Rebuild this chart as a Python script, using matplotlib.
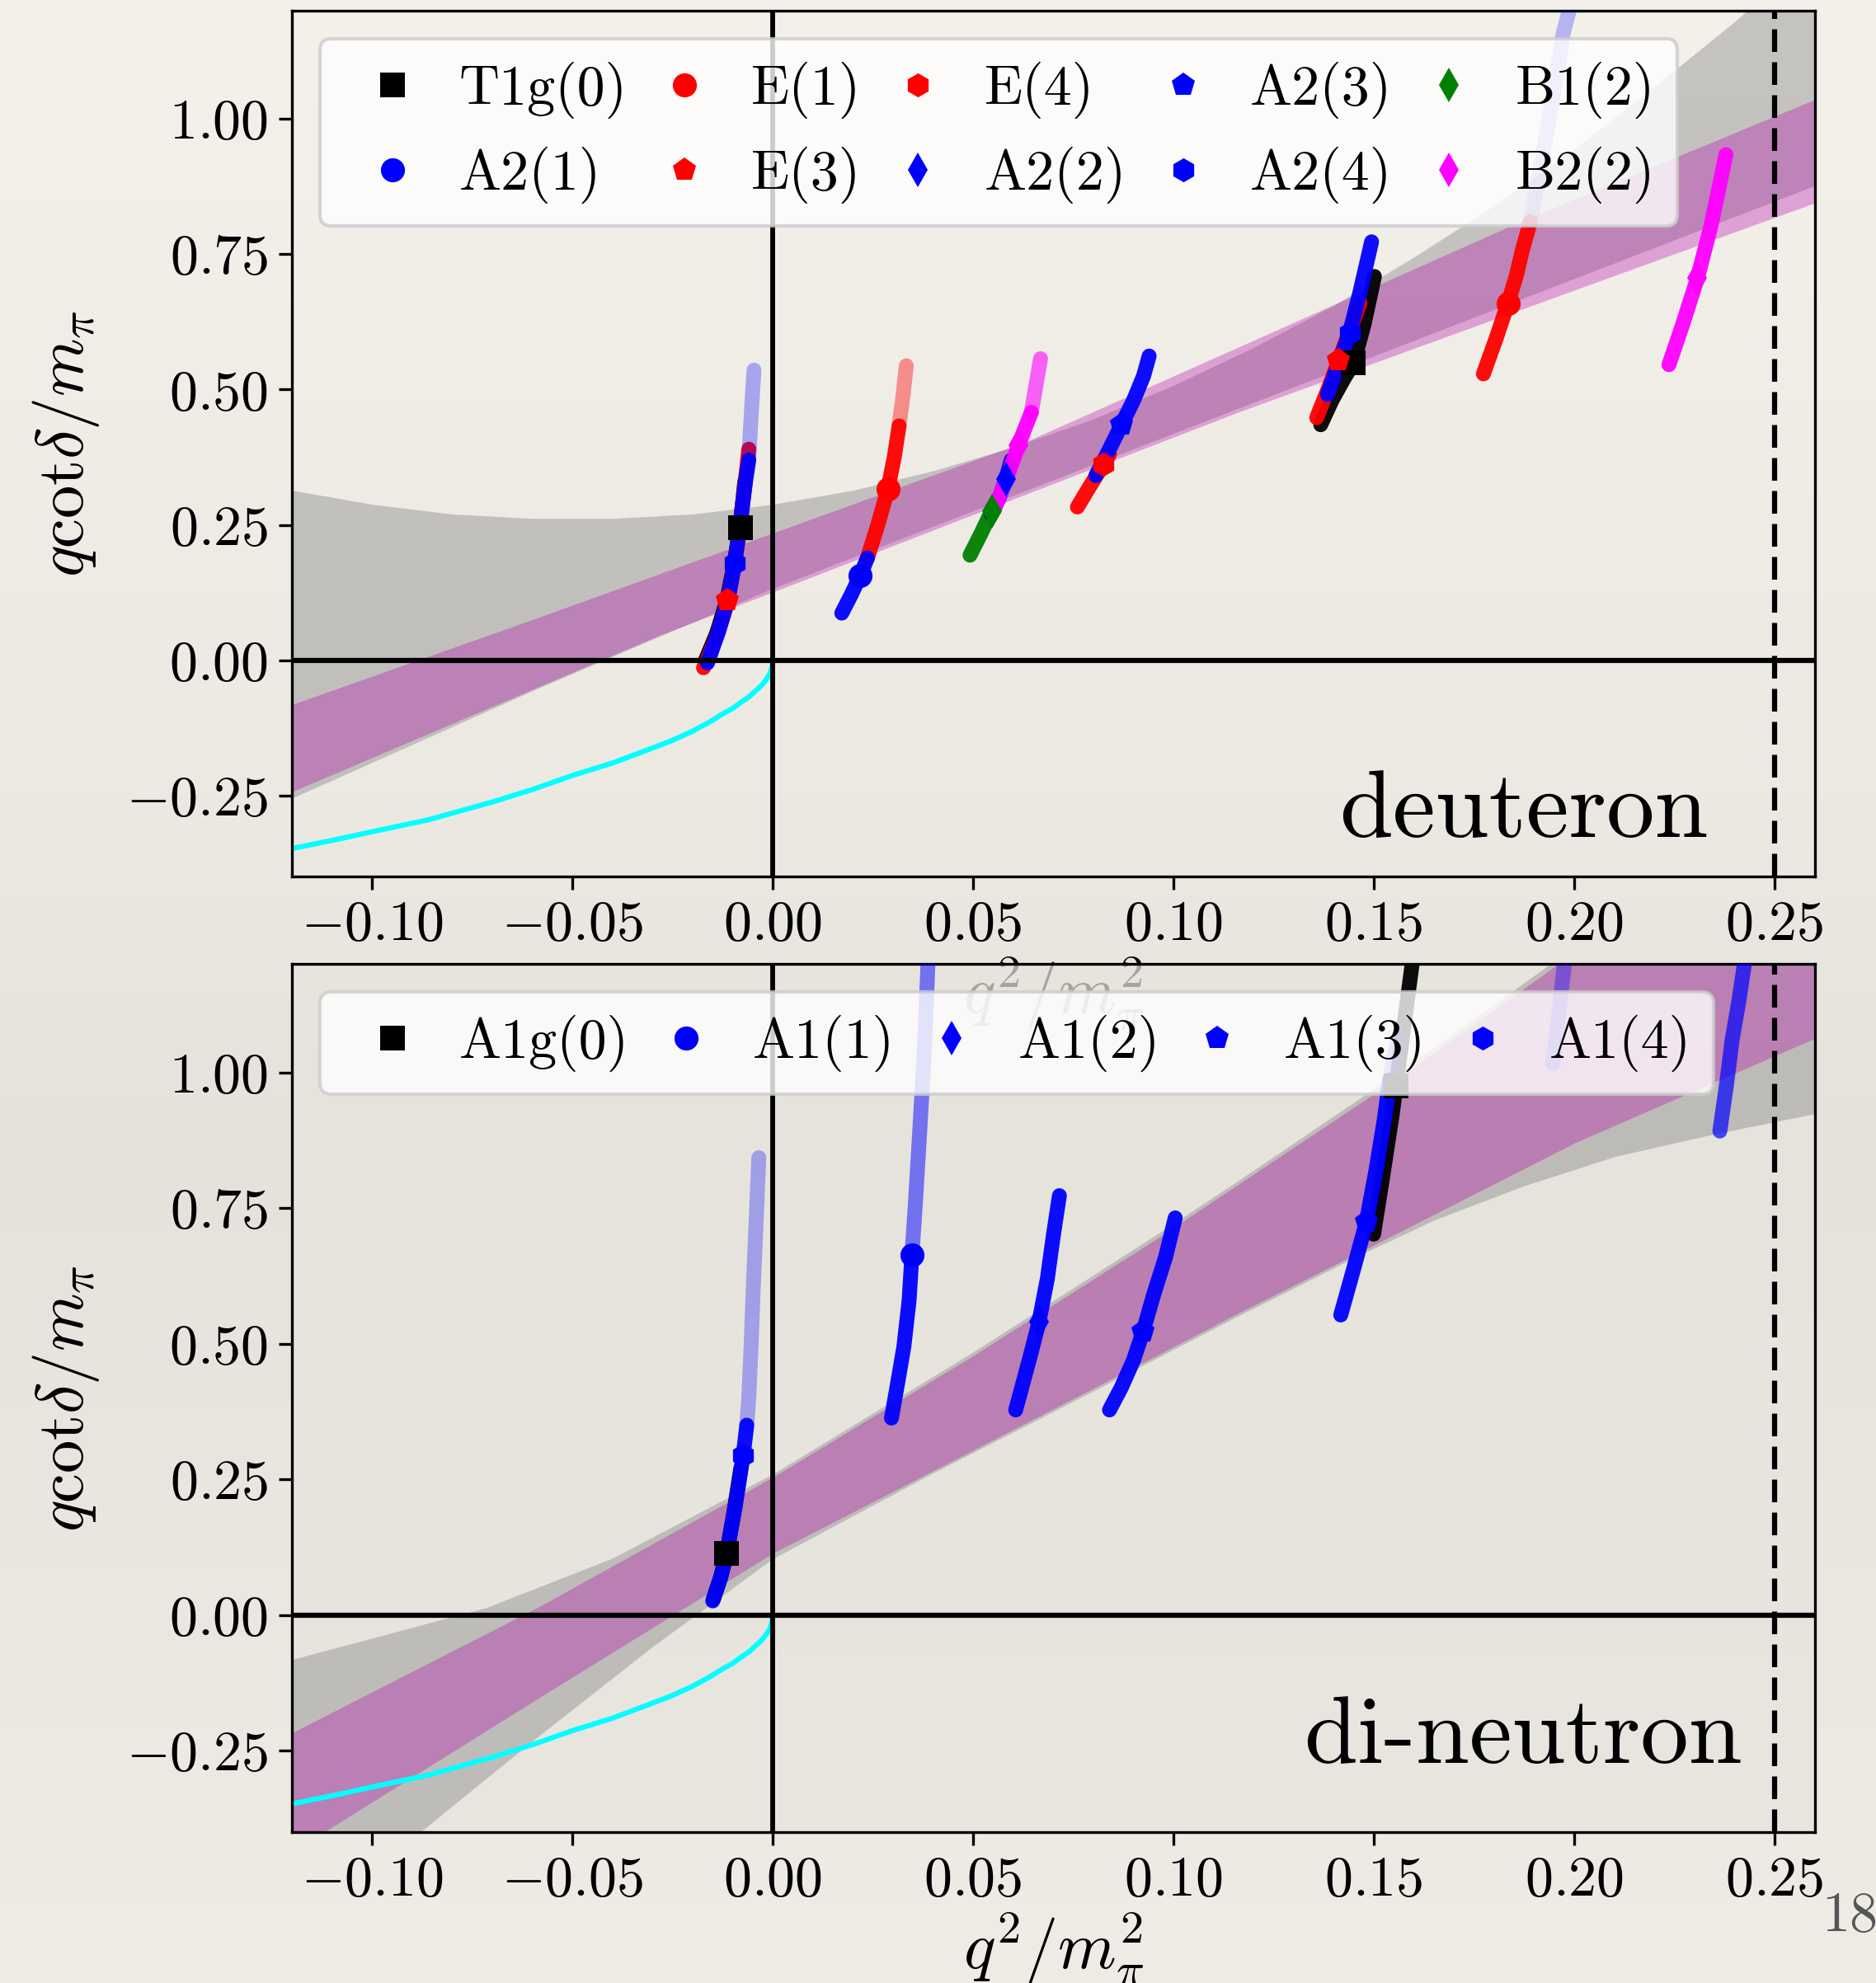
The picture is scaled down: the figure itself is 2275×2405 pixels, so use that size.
import numpy as np
import matplotlib
matplotlib.use("Agg")
import matplotlib.pyplot as plt
from matplotlib.colors import LinearSegmentedColormap
from matplotlib.ticker import FuncFormatter

plt.rcParams['font.family'] = ['cmr10']
plt.rcParams['mathtext.fontset'] = 'cm'
plt.rcParams['axes.unicode_minus'] = False
plt.rcParams['axes.formatter.use_mathtext'] = True

# ---------------- bands ----------------
# deuteron panel
d_gray_x = [-0.12, -0.10, -0.08, -0.06, -0.04, -0.02, 0.0, 0.02, 0.04, 0.06, 0.08, 0.10,
            0.12, 0.14, 0.16, 0.18, 0.20, 0.22, 0.24, 0.26]
d_gray_up = [0.314, 0.288, 0.270, 0.262, 0.262, 0.270, 0.288, 0.314, 0.350, 0.394, 0.446, 0.508,
             0.578, 0.656, 0.745, 0.840, 0.945, 1.060, 1.180, 1.310]
d_gray_lo_x = [-0.12, -0.055, 0.0, 0.116, 0.26]
d_gray_lo = [-0.255, -0.040, 0.133, 0.465, 0.877]
d_purp_up_x = [-0.12, -0.06, 0.0, 0.0635, 0.116, 0.187, 0.26]
d_purp_up = [-0.082, 0.075, 0.235, 0.405, 0.578, 0.812, 1.036]
d_purp_lo_x = [-0.12, -0.028, 0.0, 0.116, 0.26]
d_purp_lo = [-0.243, 0.047, 0.126, 0.458, 0.845]

# di-neutron panel
n_gray_up_x = [-0.12, -0.0714, -0.04, 0.0, 0.05, 0.0965, 0.116, 0.16, 0.194, 0.26]
n_gray_up = [-0.082, 0.014, 0.105, 0.26, 0.485, 0.705, 0.80, 1.02, 1.20, 1.58]
n_gray_lo_x = [-0.12, -0.088, -0.06, -0.03, 0.0, 0.04, 0.08, 0.116, 0.146, 0.165, 0.187,
               0.21, 0.2358, 0.26]
n_gray_lo = [-0.592, -0.40, -0.232, -0.058, 0.104, 0.262, 0.413, 0.551, 0.662, 0.728, 0.790,
             0.845, 0.888, 0.924]
n_purp_up_x = [-0.12, -0.0587, 0.0, 0.05, 0.0965, 0.116, 0.16, 0.196, 0.26]
n_purp_up = [-0.217, 0.014, 0.254, 0.478, 0.697, 0.793, 1.01, 1.20, 1.55]
n_purp_lo_x = [-0.12, -0.112, -0.06, 0.0, 0.04, 0.08, 0.116, 0.146, 0.20, 0.26]
n_purp_lo = [-0.437, -0.40, -0.16, 0.114, 0.266, 0.418, 0.556, 0.667, 0.87, 1.063]

# bound-state curve
cyan_x = [-0.12, -0.11, -0.10, -0.086, -0.07, -0.06, -0.05, -0.04, -0.031, -0.025, -0.02,
          -0.0155, -0.0127, -0.010, -0.008, -0.006, -0.0045, -0.003, -0.002, -0.0012,
          -0.0007, -0.0003, 0.0]
cyan_y = [-0.348, -0.333, -0.317, -0.295, -0.262, -0.239, -0.213, -0.190, -0.165, -0.148,
          -0.131, -0.113, -0.100, -0.089, -0.078, -0.068, -0.058, -0.048, -0.039, -0.031,
          -0.024, -0.015, 0.0]

# ---------------- deuteron levels ----------------
d_t1g0_a_x = [-0.0168, -0.0140, -0.0115, -0.0096, -0.0082, -0.0070]
d_t1g0_a_y = [0.0, 0.05, 0.11, 0.18, 0.245, 0.33]
d_e3_a_x = [-0.0173, -0.0163, -0.0136, -0.0113, -0.0095, -0.0082, -0.0068, -0.0060]
d_e3_a_y = [-0.014, 0.001, 0.052, 0.108, 0.179, 0.245, 0.336, 0.39]
d_a24_a_x = [-0.0163, -0.0136, -0.0113, -0.0095, -0.0085, -0.0075, -0.0067, -0.0060]
d_a24_a_y = [-0.005, 0.052, 0.108, 0.179, 0.235, 0.29, 0.336, 0.37]
d_a24_a_fx = [-0.0060, -0.0055, -0.0051, -0.0047]
d_a24_a_fy = [0.37, 0.44, 0.49, 0.536]
d_a21_b_x = [0.0172, 0.0195, 0.0218, 0.0236]
d_a21_b_y = [0.087, 0.12, 0.156, 0.189]
d_e1_b_x = [0.0236, 0.0262, 0.0287, 0.0303, 0.0315]
d_e1_b_y = [0.189, 0.25, 0.316, 0.375, 0.433]
d_e1_b_fx = [0.0315, 0.0325, 0.0333]
d_e1_b_fy = [0.433, 0.49, 0.544]
d_b12_x = [0.0492, 0.0520, 0.0549]
d_b12_y = [0.194, 0.235, 0.280]
d_a22_x = [0.0545, 0.0565, 0.0581, 0.0595]
d_a22_y = [0.27, 0.30, 0.334, 0.37]
d_b22_c_x = [0.0553, 0.0583, 0.0613, 0.0630, 0.0645]
d_b22_c_y = [0.28, 0.335, 0.397, 0.43, 0.458]
d_b22_c_fx = [0.0645, 0.0657, 0.0668]
d_b22_c_fy = [0.458, 0.51, 0.557]
d_e4_x = [0.0760, 0.0790, 0.0825, 0.0840]
d_e4_y = [0.283, 0.32, 0.362, 0.38]
d_a23_x = [0.0806, 0.0840, 0.0870, 0.0900, 0.0925, 0.0939]
d_a23_y = [0.341, 0.39, 0.435, 0.48, 0.525, 0.562]
d_t1g0_e_x = [0.1367, 0.1395, 0.1425, 0.1449, 0.1475, 0.1501]
d_t1g0_e_y = [0.435, 0.48, 0.52, 0.549, 0.62, 0.709]
d_e3_e_x = [0.1357, 0.1385, 0.1412, 0.1440, 0.1465]
d_e3_e_y = [0.448, 0.50, 0.554, 0.61, 0.66]
d_a24_e_x = [0.1384, 0.1410, 0.1439, 0.1465, 0.1494]
d_a24_e_y = [0.491, 0.545, 0.605, 0.68, 0.773]
d_e1_f_x = [0.1773, 0.1805, 0.1834, 0.1855, 0.1870, 0.1890]
d_e1_f_y = [0.529, 0.595, 0.659, 0.71, 0.757, 0.81]
d_a21_f_fx = [0.1890, 0.1920, 0.1941, 0.1958, 0.1972, 0.1987]
d_a21_f_fy = [0.81, 0.93, 1.016, 1.09, 1.158, 1.2]
d_b22_f_x = [0.2236, 0.2270, 0.2307, 0.2340, 0.2360, 0.2378]
d_b22_f_y = [0.546, 0.62, 0.706, 0.80, 0.87, 0.934]

# central values (deuteron), legend order
d_labels = ['T1g(0)', 'A2(1)', 'E(1)', 'E(3)', 'E(4)', 'A2(2)', 'A2(3)', 'A2(4)', 'B1(2)', 'B2(2)']
d_cx = [[-0.0081, 0.1449], [0.0218], [0.0287, 0.1834], [-0.0113, 0.1412], [0.0825],
        [0.0581], [0.0870], [-0.0095, 0.1439], [0.0547], [0.0613, 0.2307]]
d_cy = [[0.245, 0.549], [0.156], [0.316, 0.659], [0.110, 0.554], [0.362],
        [0.334], [0.435], [0.179, 0.605], [0.276], [0.397, 0.706]]

# ---------------- di-neutron levels ----------------
n_a1g0_a_x = [-0.0148, -0.0130, -0.0115, -0.0097, -0.0080]
n_a1g0_a_y = [0.03, 0.07, 0.114, 0.19, 0.27]
n_a14_a_x = [-0.0150, -0.0130, -0.0115, -0.0095, -0.0074, -0.0065]
n_a14_a_y = [0.026, 0.07, 0.114, 0.195, 0.294, 0.35]
n_a14_a_fx = [-0.0065, -0.0060, -0.0054, -0.0049, -0.0042, -0.0035]
n_a14_a_fy = [0.35, 0.40, 0.50, 0.60, 0.72, 0.843]
n_a11_x = [0.0296, 0.0312, 0.0327, 0.0340, 0.0347]
n_a11_y = [0.363, 0.43, 0.495, 0.58, 0.663]
n_a11_fx = [0.0347, 0.0355, 0.0367, 0.0375, 0.0380, 0.0387]
n_a11_fy = [0.663, 0.75, 0.898, 1.0, 1.073, 1.2]
n_a12_x = [0.0606, 0.0625, 0.0645, 0.0664, 0.0685, 0.0700, 0.0715]
n_a12_y = [0.378, 0.43, 0.485, 0.540, 0.62, 0.70, 0.773]
n_a13_x = [0.0840, 0.0870, 0.0900, 0.0924, 0.0950, 0.0980, 0.1004]
n_a13_y = [0.378, 0.42, 0.47, 0.523, 0.59, 0.66, 0.732]
n_a1g0_e_x = [0.1499, 0.1520, 0.1545, 0.1570, 0.1595]
n_a1g0_e_y = [0.702, 0.80, 0.92, 1.06, 1.199]
n_a13_e_x = [0.1417, 0.1450, 0.1481, 0.1505, 0.1525, 0.1539]
n_a13_e_y = [0.553, 0.64, 0.725, 0.82, 0.91, 0.986]
n_a13_e_fx = [0.1539, 0.1550, 0.1560]
n_a13_e_fy = [0.986, 1.03, 1.06]
n_a1_f_fx = [0.1946, 0.1960, 0.1975]
n_a1_f_fy = [1.016, 1.10, 1.2]
n_a1_g_x = [0.2363, 0.2380, 0.2394, 0.2410, 0.2424]
n_a1_g_y = [0.892, 0.98, 1.062, 1.13, 1.199]

n_labels = ['A1g(0)', 'A1(1)', 'A1(2)', 'A1(3)', 'A1(4)']
n_cx = [[-0.0115, 0.1555], [0.0347], [0.0664], [0.0924, 0.1481], [-0.0074]]
n_cy = [[0.114, 0.975], [0.663], [0.540], [0.523, 0.725], [0.294]]

xticks = [-0.10, -0.05, 0.00, 0.05, 0.10, 0.15, 0.20, 0.25]
yticks = [-0.25, 0.00, 0.25, 0.50, 0.75, 1.00]

# ---------------- styling ----------------
FS = 49
LW = 13
MAG = '#ff00ff'
d_styles = [('k', 's'), ('b', 'o'), ('r', 'o'), ('r', 'p'), ('r', 'h'),
            ('b', 'd'), ('b', 'p'), ('b', 'h'), ('g', 'd'), (MAG, 'd')]
n_styles = [('k', 's'), ('b', 'o'), ('b', 'd'), ('b', 'p'), ('b', 'h')]

fig = plt.figure(figsize=(22.75, 24.05), dpi=100)

# paper-like background
bg = fig.add_axes([0, 0, 1, 1], zorder=-10)
paper = LinearSegmentedColormap.from_list(
    'paper', [(0.0, '#f4f1eb'), (0.40, '#ece9e3'), (0.58, '#e5e2dc'), (1.0, '#efece6')])
bg.imshow(np.linspace(0, 1, 256).reshape(-1, 1), aspect='auto', cmap=paper,
          extent=[0, 1, 0, 1], origin='upper')
bg.axis('off')

ax1 = fig.add_axes([0.1556, 0.5579, 0.8118, 0.4367])
ax2 = fig.add_axes([0.1556, 0.0761, 0.8118, 0.4378])
ax1.patch.set_alpha(0)
ax2.patch.set_facecolor('#e7e4de')
ax2.patch.set_alpha(0.72)


def curve(ax, x, y, color, alpha=0.95):
    ax.plot(x, y, color=color, lw=LW, alpha=alpha, solid_capstyle='round',
            solid_joinstyle='round', zorder=3)


def frame(ax):
    ax.set_xlim(-0.12, 0.26)
    ax.set_ylim(-0.4, 1.2)
    ax.set_xticks(xticks)
    ax.set_yticks(yticks)
    fmt = FuncFormatter(lambda v, p: r'$%.2f$' % v)
    ax.xaxis.set_major_formatter(fmt)
    ax.yaxis.set_major_formatter(fmt)
    ax.tick_params(labelsize=FS, length=11.5, width=2.4, pad=9)
    for s in ax.spines.values():
        s.set_linewidth(2.4)
    ax.axhline(0, color='k', lw=4.5, zorder=3.5)
    ax.axvline(0, color='k', lw=4.2, zorder=3.5)
    ax.axvline(0.25, color='k', lw=4.5, ls=(0, (4.4, 2.0)), zorder=3.5)
    ax.plot(cyan_x, cyan_y, color='cyan', lw=4.5, zorder=2)
    ax.set_xlabel(r'$q^2/m_\pi^2$', fontsize=58)
    ax.set_ylabel(r'$q\mathrm{cot}\delta/m_\pi$', fontsize=58, labelpad=22)


# ---- deuteron ----
ax1.fill_between(d_gray_x, np.interp(d_gray_x, d_gray_lo_x, d_gray_lo), d_gray_up,
                 color='gray', alpha=0.4, lw=0, zorder=1)
fx = np.unique(np.array(d_purp_up_x + d_purp_lo_x))
ax1.fill_between(fx, np.interp(fx, d_purp_lo_x, d_purp_lo), np.interp(fx, d_purp_up_x, d_purp_up),
                 color='#b400aa', alpha=0.32, lw=0, zorder=1.5)
frame(ax1)

curve(ax1, d_t1g0_a_x, d_t1g0_a_y, 'k')
curve(ax1, d_t1g0_e_x, d_t1g0_e_y, 'k')
curve(ax1, d_e3_a_x, d_e3_a_y, 'r')
curve(ax1, d_e3_e_x, d_e3_e_y, 'r')
curve(ax1, d_e4_x, d_e4_y, 'r')
curve(ax1, d_e1_b_x, d_e1_b_y, 'r')
curve(ax1, d_e1_b_fx, d_e1_b_fy, 'r', 0.4)
curve(ax1, d_e1_f_x, d_e1_f_y, 'r')
curve(ax1, d_b12_x, d_b12_y, 'g')
curve(ax1, d_a24_a_x, d_a24_a_y, 'b')
curve(ax1, d_a24_a_fx, d_a24_a_fy, 'b', 0.3)
curve(ax1, d_a21_b_x, d_a21_b_y, 'b')
curve(ax1, d_a22_x, d_a22_y, 'b')
curve(ax1, d_a23_x, d_a23_y, 'b')
curve(ax1, d_a24_e_x, d_a24_e_y, 'b')
curve(ax1, d_a21_f_fx, d_a21_f_fy, 'b', 0.25)
curve(ax1, d_b22_c_x, d_b22_c_y, MAG)
curve(ax1, d_b22_c_fx, d_b22_c_fy, MAG, 0.6)
curve(ax1, d_b22_f_x, d_b22_f_y, MAG)

for lab, (c, mk), xs, ys in zip(d_labels, d_styles, d_cx, d_cy):
    ax1.plot(xs, ys, ls='none', marker=mk, color=c, ms=21, mew=0, label=lab, zorder=4)

leg1 = ax1.legend(loc='upper left', ncol=5, fontsize=FS, handlelength=1.8, handletextpad=0.28,
                  columnspacing=0.12, borderpad=0.4, framealpha=0.8, edgecolor='0.8')
leg1.get_frame().set_linewidth(3)
ax1.text(0.2333, -0.327, 'deuteron', ha='right', va='baseline', fontsize=84, zorder=4)

# ---- di-neutron ----
gx = np.unique(np.array(n_gray_up_x + n_gray_lo_x))
ax2.fill_between(gx, np.interp(gx, n_gray_lo_x, n_gray_lo), np.interp(gx, n_gray_up_x, n_gray_up),
                 color='gray', alpha=0.4, lw=0, zorder=1)
px = np.unique(np.array(n_purp_up_x + n_purp_lo_x))
ax2.fill_between(px, np.interp(px, n_purp_lo_x, n_purp_lo), np.interp(px, n_purp_up_x, n_purp_up),
                 color='#b400aa', alpha=0.32, lw=0, zorder=1.5)
frame(ax2)

curve(ax2, n_a1g0_a_x, n_a1g0_a_y, 'k')
curve(ax2, n_a1g0_e_x, n_a1g0_e_y, 'k')
curve(ax2, n_a14_a_x, n_a14_a_y, 'b')
curve(ax2, n_a14_a_fx, n_a14_a_fy, 'b', 0.3)
curve(ax2, n_a11_x, n_a11_y, 'b')
curve(ax2, n_a11_fx, n_a11_fy, 'b', 0.5)
curve(ax2, n_a12_x, n_a12_y, 'b')
curve(ax2, n_a13_x, n_a13_y, 'b')
curve(ax2, n_a13_e_x, n_a13_e_y, 'b')
curve(ax2, n_a13_e_fx, n_a13_e_fy, 'b', 0.35)
curve(ax2, n_a1_f_fx, n_a1_f_fy, 'b', 0.35)
curve(ax2, n_a1_g_x, n_a1_g_y, 'b', 0.7)

for lab, (c, mk), xs, ys in zip(n_labels, n_styles, n_cx, n_cy):
    ax2.plot(xs, ys, ls='none', marker=mk, color=c, ms=21, mew=0, label=lab, zorder=4)

leg2 = ax2.legend(loc='upper left', ncol=5, fontsize=FS, handlelength=1.8, handletextpad=0.28,
                  columnspacing=0.12, borderpad=0.4, framealpha=0.8, edgecolor='0.8')
leg2.get_frame().set_linewidth(3)
ax2.text(0.2418, -0.272, 'di-neutron', ha='right', va='baseline', fontsize=84, zorder=4)

fig.text(2209 / 2275, 1 - 2342 / 2405, '18', fontsize=49, color='#555555', ha='left', va='baseline')

fig.savefig('out.png', dpi=100)
